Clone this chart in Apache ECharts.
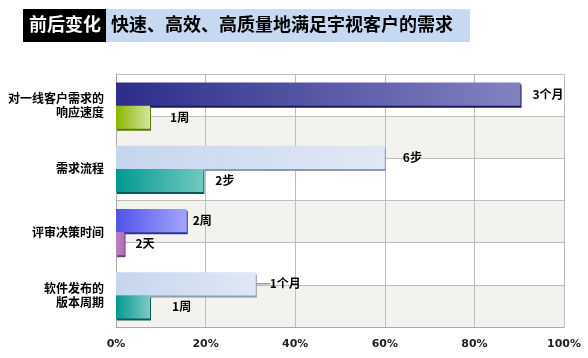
<!DOCTYPE html>
<html><head><meta charset="utf-8">
<script src="https://cdn.jsdelivr.net/npm/echarts@6/dist/echarts.min.js"></script>
<style>html,body{margin:0;padding:0;background:#fff}#c{width:588px;height:358px}</style>
</head><body><div id="c"></div>
<script>
const titleTag = '前后变化';
const titleText = '快速、高效、高质量地满足宇视客户的需求';
const categories = ['对一线客户需求的\n响应速度', '需求流程', '评审决策时间', '软件发布的\n版本周期'];
const beforeValues = [90.3, 60, 15.8, 31.2];
const beforeLabels = ['3个月', '6步', '2周', '1个月'];
const afterValues = [7.6, 19.5, 1.9, 7.6];
const afterLabels = ['1周', '2步', '2天', '1周'];
const xTicks = [0, 20, 40, 60, 80, 100];

const FONT = '"Noto Sans CJK SC", sans-serif';
function grad(a, b) {
  return new echarts.graphic.LinearGradient(0, 0, 1, 0, [{offset: 0, color: a}, {offset: 1, color: b}]);
}
const beforeStyles = [
  ['#2d2d8a', '#8282c2', '#1a1a50'],
  ['#c6d5ee', '#e0e8f5', '#8c9bb2'],
  ['#5252ec', '#a4a4fc', '#3030a0'],
  ['#c6d5ee', '#e0e8f5', '#8c9bb2']
];
const afterStyles = [
  ['#8ab600', '#d4e6a0', '#5a7a00'],
  ['#009a90', '#72c8c1', '#005e56'],
  ['#c27ec8', '#b070b4', '#7a3a7a'],
  ['#009a90', '#7ecac5', '#005e56']
];
const beforeDist = [12, 18, 6, 2];
const afterDist = [20, 12, 11, 22];

const labelStyle = {fontFamily: FONT, fontWeight: 'bold', fontSize: 12, color: '#000'};

function mk(values, labels, styles, dists) {
  return values.map((v, i) => ({
    value: v,
    itemStyle: {
      color: grad(styles[i][0], styles[i][1]),
      borderColor: styles[i][2], borderWidth: 0,
      shadowColor: styles[i][2], shadowOffsetX: 1, shadowOffsetY: 2, shadowBlur: 0
    },
    label: Object.assign({show: true, position: 'right', distance: dists[i], formatter: labels[i]}, labelStyle)
  }));
}

const beforeData = mk(beforeValues, beforeLabels, beforeStyles, beforeDist);
beforeData[3].labelLine = {show: true, lineStyle: {color: '#666', width: 1}};

const chart = echarts.init(document.getElementById('c'), null, {renderer: 'canvas'});
chart.setOption({
  animation: false,
  grid: {left: 116, right: 24, top: 74, bottom: 31, containLabel: false},
  xAxis: {
    type: 'value', min: xTicks[0], max: xTicks[xTicks.length - 1], interval: 20,
    axisLine: {show: true, lineStyle: {color: '#aaa'}},
    axisTick: {show: false},
    splitLine: {show: true, lineStyle: {color: '#bdbdbd'}},
    axisLabel: {formatter: '{value}%', fontFamily: '"DejaVu Sans"', fontWeight: 'bold', fontSize: 11, color: '#222', margin: 12}
  },
  yAxis: [{
    type: 'category', data: categories, inverse: true,
    axisLine: {show: true, lineStyle: {color: '#aaa'}},
    axisTick: {show: false},
    axisLabel: {fontFamily: FONT, fontWeight: 'bold', fontSize: 12, color: '#000', margin: 12, lineHeight: 14, align: 'right'}
  }, {
    type: 'value', min: 0, max: 6, interval: 1, position: 'left',
    axisLine: {show: false}, axisTick: {show: false}, axisLabel: {show: false},
    splitLine: {show: true, lineStyle: {color: '#bdbdbd'}},
    splitArea: {show: true, areaStyle: {color: ['#f3f2ee', '#ffffff']}}
  }],
  series: [{
    type: 'bar', name: '前', yAxisIndex: 0, barGap: '0%', barCategoryGap: '27%',
    data: beforeData, z: 3,
    labelLayout: function (p) { return p.dataIndex === 3 ? {dx: 12} : {}; }
  }, {
    type: 'bar', name: '后', yAxisIndex: 0, barGap: '0%', barCategoryGap: '27%',
    data: mk(afterValues, afterLabels, afterStyles, afterDist), z: 3
  }],
  graphic: [
    {type: 'rect', left: 23, top: 9, shape: {width: 83, height: 33}, style: {fill: '#000'}},
    {type: 'rect', left: 106, top: 9, shape: {width: 364, height: 33}, style: {fill: '#c6d9f1'}},
    {type: 'text', left: 29, top: 15, style: {text: titleTag, fill: '#fff', font: 'bold 18px ' + FONT}},
    {type: 'text', left: 111, top: 15, style: {text: titleText, fill: '#000', font: 'bold 18px ' + FONT}}
  ]
});
</script></body></html>
